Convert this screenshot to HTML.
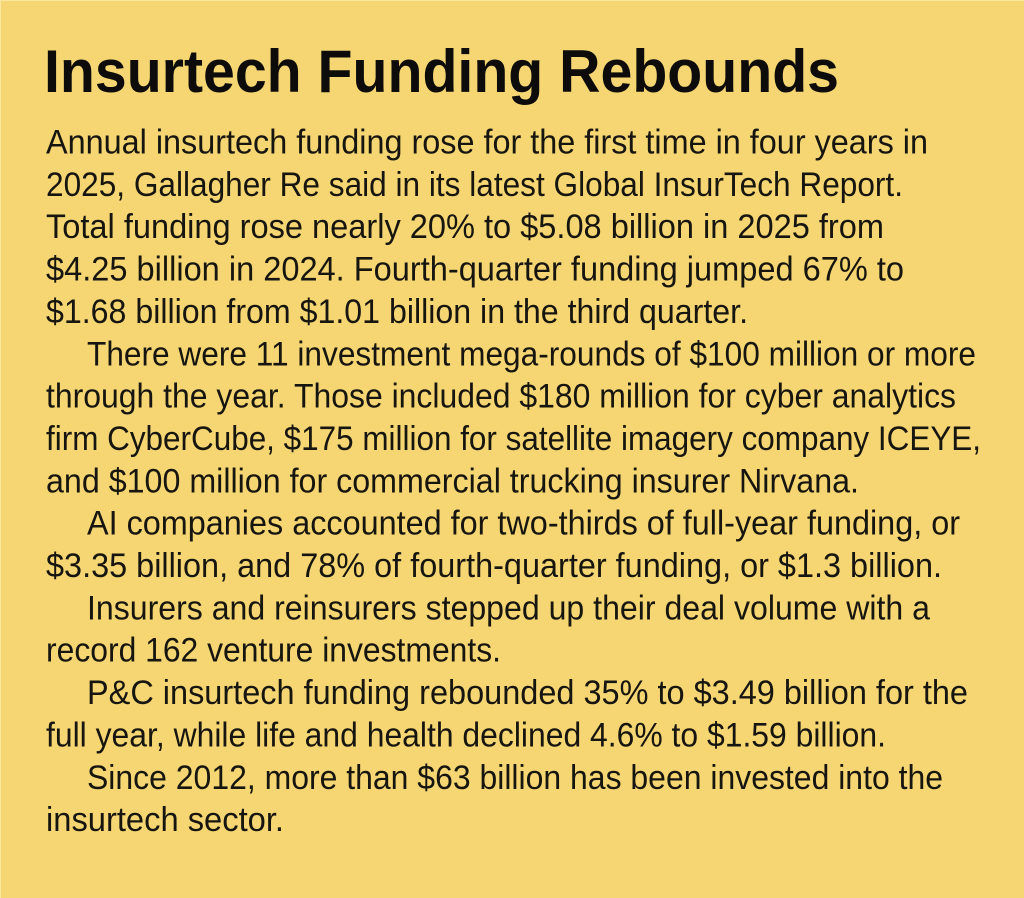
<!DOCTYPE html>
<html>
<head>
<meta charset="utf-8">
<style>
  html, body { margin: 0; padding: 0; }
  body { width: 1024px; height: 898px; overflow: hidden; background: #F5D673; }
  svg { display: block; }
  .t { font-family: "Liberation Sans", sans-serif; font-weight: bold; font-size: 60px; fill: #0d0c0a; }
  .b { font-family: "Liberation Sans", sans-serif; font-size: 34px; fill: #17150f; }
</style>
</head>
<body>
<svg width="1024" height="898" viewBox="0 0 1024 898" xmlns="http://www.w3.org/2000/svg">
  <rect x="0" y="0" width="1024" height="898" fill="#F5D673"/>
  <rect x="0" y="0" width="1024" height="1" fill="#FBE6A2"/>
  <rect x="0" y="0" width="1" height="898" fill="#FBE6A2"/>

  <text class="t" x="44" y="92" textLength="795" lengthAdjust="spacingAndGlyphs">Insurtech Funding Rebounds</text>

  <text class="b" x="46" y="153.5" textLength="882" lengthAdjust="spacingAndGlyphs">Annual insurtech funding rose for the first time in four years in</text>
  <text class="b" x="46" y="195.9" textLength="857" lengthAdjust="spacingAndGlyphs">2025, Gallagher Re said in its latest Global InsurTech Report.</text>
  <text class="b" x="46" y="238.2" textLength="838" lengthAdjust="spacingAndGlyphs">Total funding rose nearly 20% to $5.08 billion in 2025 from</text>
  <text class="b" x="46" y="280.6" textLength="858" lengthAdjust="spacingAndGlyphs">$4.25 billion in 2024. Fourth-quarter funding jumped 67% to</text>
  <text class="b" x="46" y="322.9" textLength="702" lengthAdjust="spacingAndGlyphs">$1.68 billion from $1.01 billion in the third quarter.</text>
  <text class="b" x="87" y="365.3" textLength="889" lengthAdjust="spacingAndGlyphs">There were 11 investment mega-rounds of $100 million or more</text>
  <text class="b" x="46" y="407.6" textLength="910" lengthAdjust="spacingAndGlyphs">through the year. Those included $180 million for cyber analytics</text>
  <text class="b" x="46" y="450.0" textLength="935" lengthAdjust="spacingAndGlyphs">firm CyberCube, $175 million for satellite imagery company ICEYE,</text>
  <text class="b" x="46" y="492.3" textLength="813" lengthAdjust="spacingAndGlyphs">and $100 million for commercial trucking insurer Nirvana.</text>
  <text class="b" x="87" y="534.7" textLength="873" lengthAdjust="spacingAndGlyphs">AI companies accounted for two-thirds of full-year funding, or</text>
  <text class="b" x="46" y="577.0" textLength="896" lengthAdjust="spacingAndGlyphs">$3.35 billion, and 78% of fourth-quarter funding, or $1.3 billion.</text>
  <text class="b" x="87" y="619.4" textLength="843" lengthAdjust="spacingAndGlyphs">Insurers and reinsurers stepped up their deal volume with a</text>
  <text class="b" x="46" y="661.7" textLength="455" lengthAdjust="spacingAndGlyphs">record 162 venture investments.</text>
  <text class="b" x="87" y="704.1" textLength="881" lengthAdjust="spacingAndGlyphs">P&amp;C insurtech funding rebounded 35% to $3.49 billion for the</text>
  <text class="b" x="46" y="746.4" textLength="840" lengthAdjust="spacingAndGlyphs">full year, while life and health declined 4.6% to $1.59 billion.</text>
  <text class="b" x="87" y="788.8" textLength="856" lengthAdjust="spacingAndGlyphs">Since 2012, more than $63 billion has been invested into the</text>
  <text class="b" x="46" y="831.1" textLength="238" lengthAdjust="spacingAndGlyphs">insurtech sector.</text>
</svg>
</body>
</html>
